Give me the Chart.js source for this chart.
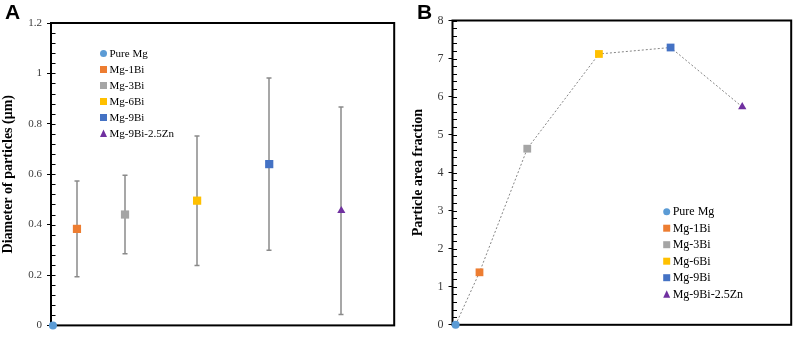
<!DOCTYPE html>
<html lang="en">
<head>
  <meta charset="UTF-8" />
  <title>Particle diameter and area fraction</title>
  <script src="https://cdn.jsdelivr.net/npm/chart.js"></script>
  <style>
    body {
      margin: 0;
      padding: 0;
      background: #fff;
      width: 796px;
      height: 337px;
      position: relative;
      overflow: hidden;
    }
    .panel { position: absolute; top: 0; height: 337px; }
    #panelA { left: 0; width: 400px; }
    #panelB { left: 400px; width: 396px; }
    .tag {
      position: absolute;
      top: 1px;
      font: bold 21px "Liberation Sans", Arial, sans-serif;
      line-height: 1;
      color: #000;
    }
  </style>
</head>
<body>
  <div class="panel" id="panelA"><canvas id="chartA"></canvas></div>
  <div class="panel" id="panelB"><canvas id="chartB"></canvas></div>
  <div class="tag" style="left:5px">A</div>
  <div class="tag" style="left:417px">B</div>

  <script>
    // data
    const alloys = ["Pure Mg", "Mg-1Bi", "Mg-3Bi", "Mg-6Bi", "Mg-9Bi", "Mg-9Bi-2.5Zn"];
    const biContent = [0, 1, 3, 6, 9, 12];           // horizontal position of each alloy
    const diameter = [0, 0.383, 0.44, 0.495, 0.64, 0.455];
    const diameterErr = [0, 0.19, 0.156, 0.257, 0.342, 0.412];
    const areaFraction = [0, 1.38, 4.63, 7.12, 7.29, 5.73];

    const colours = ["#5B9BD5", "#ED7D31", "#A5A5A5", "#FFC000", "#4472C4", "#7030A0"];
    const shapes = ["circle", "rect", "rect", "rect", "rect", "triangle"];

    const serif = '"Liberation Serif", "Times New Roman", serif';

    const isMajor = (v, step) => Math.abs(v / step - Math.round(v / step)) < 1e-6;

    function drawMarker(ctx, shape, x, y, size, colour) {
      ctx.fillStyle = colour;
      ctx.beginPath();
      if (shape === "circle") {
        ctx.arc(x, y, size / 2, 0, Math.PI * 2);
      } else if (shape === "rect") {
        ctx.rect(x - size / 2, y - size / 2, size, size);
      } else {
        ctx.moveTo(x, y - size / 2 - 0.5);
        ctx.lineTo(x + size / 2, y + size / 2);
        ctx.lineTo(x - size / 2, y + size / 2);
        ctx.closePath();
      }
      ctx.fill();
    }

    // box round the plot plus the small inside ticks
    const cadre = {
      id: "cadre",
      beforeDatasetsDraw(chart) {
        const { ctx, chartArea: { left, top, right, bottom }, scales: { y } } = chart;
        ctx.save();
        ctx.strokeStyle = "#000";
        ctx.lineWidth = 1;
        y.ticks.forEach(t => {
          const py = Math.round(y.getPixelForValue(t.value)) + 0.5;
          ctx.beginPath();
          ctx.moveTo(left, py);
          ctx.lineTo(left + 4.5, py);
          ctx.stroke();
        });
        ctx.lineWidth = 2;
        ctx.strokeRect(left, top, right - left, bottom - top);
        ctx.restore();
      }
    };

    const barresErreur = {
      id: "barresErreur",
      beforeDatasetsDraw(chart, args, opts) {
        if (!opts.err) return;
        const { ctx, scales: { x, y } } = chart;
        ctx.save();
        ctx.strokeStyle = "#8a8a8a";
        ctx.lineWidth = 1.5;
        opts.err.forEach((e, i) => {
          if (!e) return;
          const px = Math.round(x.getPixelForValue(biContent[i]));
          const yt = y.getPixelForValue(diameter[i] + e);
          const yb = y.getPixelForValue(diameter[i] - e);
          ctx.beginPath();
          ctx.moveTo(px, yt); ctx.lineTo(px, yb);
          ctx.moveTo(px - 2.5, yt); ctx.lineTo(px + 2.5, yt);
          ctx.moveTo(px - 2.5, yb); ctx.lineTo(px + 2.5, yb);
          ctx.stroke();
        });
        ctx.restore();
      }
    };

    const legende = {
      id: "legende",
      afterDraw(chart, args, opts) {
        const ctx = chart.ctx;
        ctx.save();
        ctx.font = opts.size + "px " + serif;
        ctx.textBaseline = "middle";
        ctx.textAlign = "left";
        alloys.forEach((name, i) => {
          const y = opts.y + i * opts.dy;
          drawMarker(ctx, shapes[i], opts.x, y, 7, colours[i]);
          ctx.fillStyle = "#000";
          ctx.fillText(name, opts.x + 6, y + 0.5);
        });
        ctx.restore();
      }
    };

    function yAxis(max, minor, major, title, width, titlePad, size) {
      return {
        min: 0,
        max: max,
        afterFit(s) { s.width = width; },
        border: { display: false },
        grid: {
          drawOnChartArea: false,
          drawTicks: true,
          tickLength: 4,
          tickWidth: 1,
          tickColor: c => isMajor(c.tick.value, major) ? "#000" : "rgba(0,0,0,0)"
        },
        ticks: {
          stepSize: minor,
          autoSkip: false,
          padding: 5,
          color: "#3a3a3a",
          font: { family: serif, size: size },
          callback: v => isMajor(v, major) ? String(Math.round(v * 10) / 10) : ""
        },
        title: {
          display: true,
          text: title,
          color: "#000",
          font: { family: serif, size: 14, weight: "bold" },
          padding: { top: titlePad, bottom: 0 }
        }
      };
    }

    const points = vals => vals.map((v, i) => ({ x: biContent[i], y: v }));

    new Chart(document.getElementById("chartA"), {
      type: "scatter",
      data: {
        datasets: [{
          label: "Diameter",
          data: points(diameter),
          pointStyle: shapes,
          pointRadius: [4, 5.8, 5.8, 5.8, 5.8, 4.7],
          pointBackgroundColor: colours,
          pointBorderWidth: 0,
          clip: false
        }]
      },
      options: {
        responsive: true,
        maintainAspectRatio: false,
        animation: false,
        layout: { padding: { left: 0, top: 23, right: 3, bottom: 6 } },
        scales: {
          x: { type: "linear", display: false, min: -0.08, max: 14.2 },
          y: yAxis(1.2, 0.04, 0.2, "Diameter of particles (μm)", 51, 0, 11)
        },
        plugins: {
          legend: { display: false },
          tooltip: { enabled: false },
          barresErreur: { err: diameterErr },
          legende: { x: 103.5, y: 53.5, dy: 16, size: 11 }
        }
      },
      plugins: [cadre, barresErreur, legende]
    });

    new Chart(document.getElementById("chartB"), {
      type: "scatter",
      data: {
        datasets: [{
          label: "Area fraction",
          data: points(areaFraction),
          showLine: true,
          borderColor: "#858585",
          borderWidth: 1,
          borderDash: [2, 2],
          tension: 0,
          pointStyle: shapes,
          pointRadius: [4, 5.5, 5.5, 5.5, 5.5, 4.8],
          pointBackgroundColor: colours,
          pointBorderWidth: 0,
          clip: false
        }]
      },
      options: {
        responsive: true,
        maintainAspectRatio: false,
        animation: false,
        layout: { padding: { left: 0, top: 20.5, right: 2, bottom: 7 } },
        scales: {
          x: { type: "linear", display: false, min: -0.13, max: 14.05 },
          y: yAxis(8, 0.2, 1, "Particle area fraction", 52.5, 9.5, 12)
        },
        plugins: {
          legend: { display: false },
          tooltip: { enabled: false },
          legende: { x: 266.7, y: 211.7, dy: 16.5, size: 12 }
        }
      },
      plugins: [cadre, legende]
    });
  </script>
</body>
</html>
